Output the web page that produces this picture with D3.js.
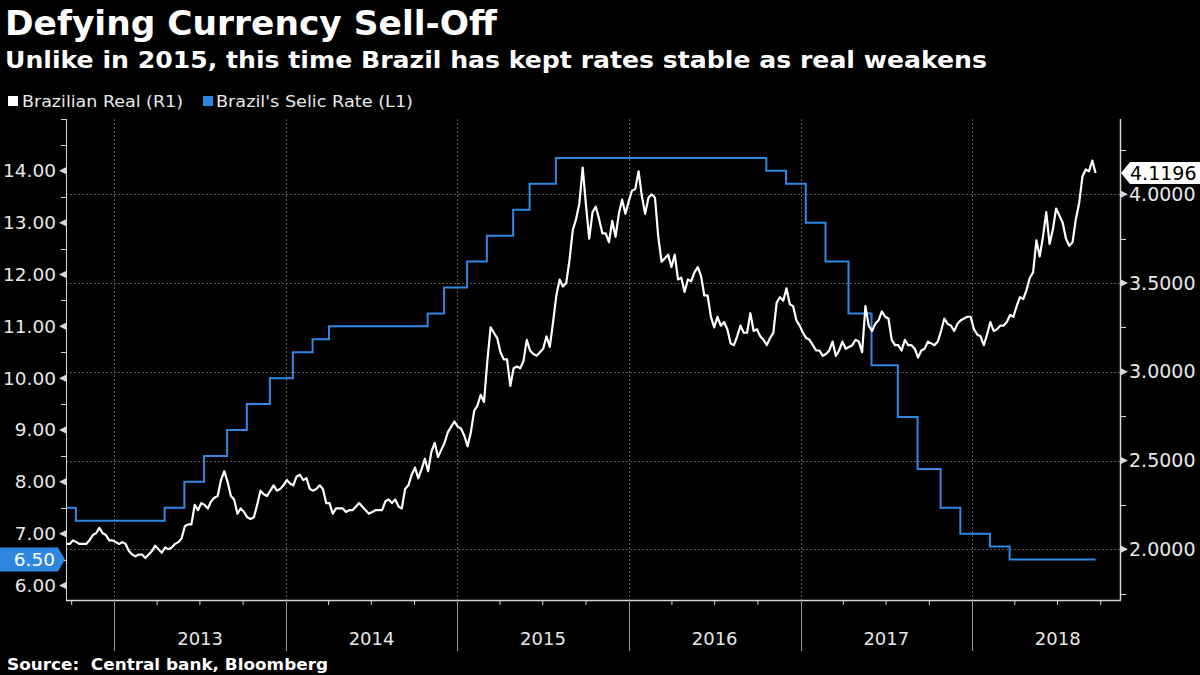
<!DOCTYPE html>
<html><head><meta charset="utf-8">
<script src="https://cdn.jsdelivr.net/npm/d3@7"></script>
<style>
body{margin:0;background:#000;}
svg{display:block;}
text{font-family:"DejaVu Sans",sans-serif;}
</style>
</head><body>
<svg id="chart" width="1200" height="675"></svg>
<script>
// ---------- DATA ----------
const titleText = "Defying Currency Sell-Off";
const subtitleText = "Unlike in 2015, this time Brazil has kept rates stable as real weakens";
const sourceText = "Source:  Central bank, Bloomberg";
const legendLabels = ["Brazilian Real (R1)", "Brazil's Selic Rate (L1)"];

// Brazilian real (USD/BRL), weekly readings starting Friday 2012-09-21
const brlStart = "2012-09-21";
const brl2012 = [2.03,2.03,2.05,2.04,2.03,2.03,2.03,2.05,2.08,2.09,2.12,2.09,2.08,2.05,2.05];
const brl2013 = [2.04,2.03,2.04,2.03,1.99,1.97,1.96,1.97,1.97,1.95,1.97,1.99,2.02,2.00,1.98,2.01,2.00,2.01,2.03,2.04,2.06,2.13,2.14,2.14,2.25,2.22,2.26,2.25,2.23,2.27,2.29,2.30,2.39,2.44,2.38,2.30,2.28,2.20,2.23,2.21,2.18,2.17,2.18,2.25,2.33,2.31,2.30,2.33,2.36,2.33,2.34,2.36];
const brl2014 = [2.39,2.37,2.36,2.41,2.42,2.39,2.40,2.34,2.33,2.34,2.36,2.34,2.26,2.26,2.20,2.23,2.23,2.23,2.21,2.22,2.22,2.24,2.26,2.24,2.22,2.20,2.21,2.22,2.22,2.22,2.27,2.28,2.26,2.28,2.24,2.23,2.34,2.36,2.42,2.46,2.40,2.45,2.51,2.44,2.55,2.60,2.52,2.56,2.60,2.66,2.69,2.72];
const brl2015 = [2.69,2.68,2.64,2.58,2.66,2.78,2.81,2.87,2.83,3.06,3.25,3.22,3.19,3.11,3.07,3.07,2.92,3.02,3.03,3.02,3.06,3.18,3.12,3.10,3.09,3.11,3.13,3.20,3.14,3.28,3.43,3.52,3.48,3.50,3.63,3.80,3.86,3.95,4.15,3.94,3.75,3.90,3.93,3.86,3.78,3.78,3.73,3.85,3.76,3.89,3.97,3.89];
const brl2016 = [3.96,4.02,4.03,4.13,3.99,3.89,3.98,4.00,3.98,3.76,3.62,3.64,3.66,3.59,3.66,3.52,3.53,3.45,3.52,3.51,3.56,3.59,3.54,3.43,3.43,3.31,3.25,3.31,3.26,3.28,3.24,3.16,3.15,3.20,3.26,3.22,3.22,3.33,3.23,3.24,3.20,3.18,3.15,3.19,3.22,3.39,3.42,3.40,3.47,3.38,3.37,3.29,3.26];
const brl2017 = [3.22,3.19,3.18,3.15,3.12,3.12,3.09,3.10,3.12,3.17,3.09,3.12,3.17,3.13,3.14,3.15,3.18,3.17,3.11,3.37,3.26,3.23,3.27,3.29,3.34,3.31,3.30,3.18,3.15,3.15,3.12,3.18,3.15,3.15,3.13,3.08,3.12,3.13,3.17,3.16,3.15,3.17,3.23,3.30,3.27,3.26,3.23,3.27,3.29,3.30,3.31,3.31];
const brl2018 = [3.24,3.21,3.20,3.15,3.21,3.28,3.23,3.24,3.26,3.26,3.28,3.32,3.31,3.37,3.42,3.41,3.46,3.53,3.56,3.74,3.65,3.76,3.90,3.72,3.80,3.92,3.88,3.84,3.75,3.71,3.73,3.86,3.95,4.10,4.14,4.13,4.19,4.1196];

// Selic rate decisions (date of change, new rate)
const selicDates = ["2012-09-21","2012-10-11","2013-04-18","2013-05-30","2013-07-11","2013-08-29","2013-10-10","2013-11-28","2014-01-16","2014-02-27","2014-04-03","2014-10-30","2014-12-04","2015-01-22","2015-03-05","2015-04-30","2015-06-04","2015-07-30","2016-10-20","2016-12-01","2017-01-12","2017-02-23","2017-04-13","2017-06-01","2017-07-27","2017-09-07","2017-10-26","2017-12-07","2018-02-08","2018-03-22","2018-09-21"];
const selicValues = [7.50,7.25,7.50,8.00,8.50,9.00,9.50,10.00,10.50,10.75,11.00,11.25,11.75,12.25,12.75,13.25,13.75,14.25,14.00,13.75,13.00,12.25,11.25,10.25,9.25,8.25,7.50,7.00,6.75,6.50,6.50];

const leftTicks = [6,7,8,9,10,11,12,13,14];
const leftMinor = [6.5,7.5,8.5,9.5,10.5,11.5,12.5,13.5,14.5,15];
const rightTicks = [2.0,2.5,3.0,3.5,4.0];
const rightMinor = [1.75,2.25,2.75,3.25,3.75,4.25];
const yearTicks = ["2013-01-01","2014-01-01","2015-01-01","2016-01-01","2017-01-01","2018-01-01"];
const yearLabels = ["2013","2014","2015","2016","2017","2018"];
const lastBrlLabel = "4.1196";
const lastSelicLabel = "6.50";

// ---------- SETUP ----------
const parse = d3.timeParse("%Y-%m-%d");
const svg = d3.select("#chart");
const W = 1200, H = 675;
const plot = {left: 66, right: 1120, top: 119, bottom: 600};

svg.append("rect").attr("width", W).attr("height", H).attr("fill", "#000");

const x = d3.scaleTime()
  .domain([parse("2012-09-20"), parse("2018-11-12")])
  .range([plot.left, plot.right]);
const yL = d3.scaleLinear().domain([5.72, 15.02]).range([plot.bottom, 118]);
const yR = d3.scaleLinear().domain([1.714, 4.43]).range([plot.bottom, 118]);

const brlValues = [].concat(brl2012, brl2013, brl2014, brl2015, brl2016, brl2017, brl2018);
const start = parse(brlStart);
const brl = brlValues.map((v, i) => ({date: d3.timeDay.offset(start, 7 * i), value: v}));
const selic = selicDates.map((d, i) => ({date: parse(d), value: selicValues[i]}));

// ---------- TITLES ----------
svg.append("text").attr("x", 5).attr("y", 35).attr("fill", "#fff")
  .attr("font-size", 33).attr("font-weight", "bold")
  .attr("textLength", 492).attr("lengthAdjust", "spacingAndGlyphs").text(titleText);
svg.append("text").attr("x", 5).attr("y", 68).attr("fill", "#fff")
  .attr("font-size", 23).attr("font-weight", "bold")
  .attr("textLength", 982).attr("lengthAdjust", "spacingAndGlyphs").text(subtitleText);

// legend
const lg = svg.append("g");
lg.append("rect").attr("x", 8).attr("y", 96).attr("width", 10).attr("height", 10).attr("fill", "#fff");
lg.append("text").attr("x", 22).attr("y", 107).attr("fill", "#e8e8e8").attr("font-size", 16)
  .attr("textLength", 161).attr("lengthAdjust", "spacingAndGlyphs").text(legendLabels[0]);
lg.append("rect").attr("x", 203).attr("y", 96).attr("width", 10).attr("height", 10).attr("fill", "#2f86e0");
lg.append("text").attr("x", 216).attr("y", 107).attr("fill", "#e8e8e8").attr("font-size", 16)
  .attr("textLength", 197).attr("lengthAdjust", "spacingAndGlyphs").text(legendLabels[1]);

// ---------- GRID ----------
const grid = svg.append("g").attr("stroke", "#5a5a5a").attr("stroke-width", 1).attr("stroke-dasharray", "2,2");
grid.selectAll("line.h").data(rightTicks).join("line")
  .attr("x1", plot.left).attr("x2", plot.right)
  .attr("y1", d => Math.round(yR(d)) + 0.5).attr("y2", d => Math.round(yR(d)) + 0.5);
grid.selectAll("line.v").data(yearTicks).join("line")
  .attr("x1", d => Math.round(x(parse(d))) + 0.5).attr("x2", d => Math.round(x(parse(d))) + 0.5)
  .attr("y1", plot.top).attr("y2", plot.bottom);

// ---------- SERIES ----------
const selicLine = d3.line().x(d => x(d.date)).y(d => yL(d.value)).curve(d3.curveStepAfter);
svg.append("path").datum(selic).attr("d", selicLine)
  .attr("fill", "none").attr("stroke", "#3188e3").attr("stroke-width", 2);

const brlLine = d3.line().x(d => x(d.date)).y(d => yR(d.value));
svg.append("path").datum(brl).attr("d", brlLine)
  .attr("fill", "none").attr("stroke", "#fff").attr("stroke-width", 2.2).attr("stroke-linejoin", "round");

// ---------- AXES ----------
const axisColor = "#d8d8d8";
// left axis
const gL = svg.append("g").attr("transform", `translate(${plot.left},0)`)
  .call(d3.axisLeft(yL).tickValues(leftTicks).tickFormat(d3.format(".2f")).tickSize(0).tickPadding(10));
gL.select(".domain").remove();
gL.selectAll("text").attr("fill", "#e8e8e8").attr("font-size", 18.5).attr("font-family", "DejaVu Sans");
svg.append("line").attr("x1", plot.left + 0.5).attr("x2", plot.left + 0.5).attr("y1", plot.top).attr("y2", plot.bottom)
  .attr("stroke", axisColor).attr("stroke-width", 1);
svg.selectAll("path.ltri").data(leftTicks).join("path")
  .attr("d", d => { const yy = yL(d); return `M${plot.left - 7},${yy} L${plot.left},${yy - 3.5} L${plot.left},${yy + 3.5}Z`; })
  .attr("fill", axisColor);
svg.selectAll("line.lmin").data(leftMinor).join("line")
  .attr("x1", plot.left - 5).attr("x2", plot.left).attr("y1", d => Math.round(yL(d)) + 0.5).attr("y2", d => Math.round(yL(d)) + 0.5)
  .attr("stroke", axisColor);

// right axis
const gR = svg.append("g").attr("transform", `translate(${plot.right},0)`)
  .call(d3.axisRight(yR).tickValues(rightTicks).tickFormat(d3.format(".4f")).tickSize(0).tickPadding(9));
gR.select(".domain").remove();
gR.selectAll("text").attr("fill", "#e8e8e8").attr("font-size", 19).attr("font-family", "DejaVu Sans");
svg.append("line").attr("x1", plot.right + 0.5).attr("x2", plot.right + 0.5).attr("y1", plot.top).attr("y2", plot.bottom)
  .attr("stroke", axisColor).attr("stroke-width", 1.5);
svg.selectAll("path.rtri").data(rightTicks).join("path")
  .attr("d", d => { const yy = yR(d); return `M${plot.right + 8},${yy} L${plot.right + 1},${yy - 3.5} L${plot.right + 1},${yy + 3.5}Z`; })
  .attr("fill", axisColor);
svg.selectAll("line.rmin").data(rightMinor).join("line")
  .attr("x1", plot.right).attr("x2", plot.right + 6).attr("y1", d => Math.round(yR(d)) + 0.5).attr("y2", d => Math.round(yR(d)) + 0.5)
  .attr("stroke", axisColor);

// bottom axis
const quarters = d3.timeMonth.every(3).range(parse("2012-10-01"), parse("2018-11-01"))
  .filter(d => d.getMonth() !== 0);
const gB = svg.append("g").attr("transform", `translate(0,${plot.bottom})`)
  .call(d3.axisBottom(x).tickValues(quarters).tickFormat("").tickSize(5));
gB.select(".domain").remove();
gB.selectAll("line").attr("stroke", axisColor);
svg.append("line").attr("x1", plot.left).attr("x2", plot.right + 1).attr("y1", plot.bottom + 0.5).attr("y2", plot.bottom + 0.5)
  .attr("stroke", axisColor).attr("stroke-width", 1.5);
svg.selectAll("line.yr").data(yearTicks).join("line")
  .attr("x1", d => Math.round(x(parse(d))) + 0.5).attr("x2", d => Math.round(x(parse(d))) + 0.5)
  .attr("y1", plot.bottom).attr("y2", 651).attr("stroke", "#9a9a9a").attr("stroke-width", 1);
const yearEnds = yearTicks.slice(1).concat(["2019-01-01"]);
svg.selectAll("text.yl").data(yearLabels).join("text")
  .attr("x", (d, i) => (x(parse(yearTicks[i])) + x(parse(yearEnds[i]))) / 2)
  .attr("y", 645).attr("text-anchor", "middle").attr("fill", "#e8e8e8").attr("font-size", 18)
  .text(d => d);

// ---------- END LABELS ----------
const ys = yL(6.5);
svg.append("path").attr("d", `M0,${ys - 12} L58,${ys - 12} L65,${ys} L58,${ys + 12} L0,${ys + 12}Z`).attr("fill", "#2f86e0");
svg.append("text").attr("x", 55).attr("y", ys).attr("dy", "0.36em").attr("text-anchor", "end")
  .attr("fill", "#fff").attr("font-size", 18.5).text(lastSelicLabel);

const yb = yR(+lastBrlLabel);
svg.append("path").attr("d", `M1121,${yb} L1130,${yb - 11} L1200,${yb - 11} L1200,${yb + 11} L1130,${yb + 11}Z`).attr("fill", "#fff");
svg.append("text").attr("x", 1130).attr("y", yb).attr("dy", "0.36em")
  .attr("fill", "#000").attr("font-size", 19).text(lastBrlLabel);

// source
svg.append("text").attr("x", 7).attr("y", 670).attr("fill", "#fff")
  .attr("font-size", 16.5).attr("font-weight", "bold").style("white-space", "pre")
  .attr("textLength", 321).attr("lengthAdjust", "spacingAndGlyphs").text(sourceText);
</script>
</body></html>
